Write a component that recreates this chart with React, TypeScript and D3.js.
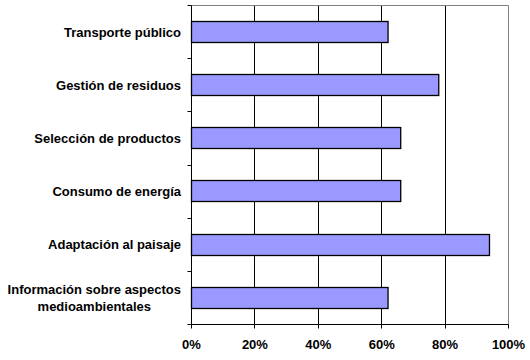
import { useEffect, useRef } from "react";
import * as d3 from "d3";

// categories top to bottom, "\n" marks a line break
const categories = [
  "Transporte público",
  "Gestión de residuos",
  "Selección de productos",
  "Consumo de energía",
  "Adaptación al paisaje",
  "Información sobre aspectos\nmedioambientales",
];
const values = [62, 78, 66, 66, 94, 62];
const xTicks = [0, 20, 40, 60, 80, 100];

const W = 530;
const H = 360;
const margin = { top: 5.5, right: 21.5, bottom: 35.5, left: 191.5 };
const FONT = "'Liberation Sans', Arial, sans-serif";

export default function App() {
  const ref = useRef<SVGSVGElement>(null);

  useEffect(() => {
    const svg = d3.select(ref.current);
    svg.selectAll("*").remove();

    const x = d3
      .scaleLinear()
      .domain([0, 100])
      .range([margin.left, W - margin.right]);
    const y = d3
      .scaleBand()
      .domain(categories)
      .range([margin.top, H - margin.bottom])
      .padding(0);
    const crisp = (v: number) => Math.round(v - 0.5) + 0.5;
    const y0 = margin.top;
    const y1 = H - margin.bottom;

    // gridlines
    svg
      .append("g")
      .selectAll("line")
      .data(xTicks.filter((t) => t > 0 && t < 100))
      .join("line")
      .attr("x1", (d) => crisp(x(d)))
      .attr("x2", (d) => crisp(x(d)))
      .attr("y1", y0)
      .attr("y2", y1)
      .attr("stroke", "#000")
      .attr("stroke-width", 1);

    // grey border top and right
    svg
      .append("path")
      .attr("d", `M${x(0)},${y0}H${crisp(x(100))}V${y1}`)
      .attr("fill", "none")
      .attr("stroke", "#808080");

    // bars
    const barH = y.bandwidth() * 0.4;
    svg
      .append("g")
      .selectAll("rect")
      .data(categories)
      .join("rect")
      .attr("x", x(0))
      .attr("y", (d) => crisp((y(d) || 0) + y.bandwidth() / 2 - barH / 2))
      .attr("width", (d, i) => x(values[i]) - x(0))
      .attr("height", Math.round(barH))
      .attr("fill", "#9999FF")
      .attr("stroke", "#000")
      .attr("stroke-width", 1.3);

    // axes lines
    svg
      .append("path")
      .attr("d", `M${x(0)},${y0}V${y1}H${crisp(x(100))}`)
      .attr("fill", "none")
      .attr("stroke", "#000");

    // left ticks at band boundaries
    const bounds = categories.map((c) => y(c) || 0).concat([y1]);
    svg
      .append("g")
      .selectAll("line")
      .data(bounds)
      .join("line")
      .attr("x1", x(0) - 4)
      .attr("x2", x(0))
      .attr("y1", (d) => crisp(d))
      .attr("y2", (d) => crisp(d))
      .attr("stroke", "#000");

    // bottom ticks + labels
    const bx = svg.append("g");
    bx.selectAll("line")
      .data(xTicks)
      .join("line")
      .attr("x1", (d) => crisp(x(d)))
      .attr("x2", (d) => crisp(x(d)))
      .attr("y1", y1)
      .attr("y2", y1 + 4)
      .attr("stroke", "#000");
    bx.selectAll("text")
      .data(xTicks)
      .join("text")
      .attr("x", (d) => x(d))
      .attr("y", y1 + 24)
      .attr("text-anchor", "middle")
      .attr("font-family", FONT)
      .attr("font-weight", "bold")
      .attr("font-size", 13)
      .text((d) => `${d}%`);

    // category labels
    const labelRight = x(0) - 10.5;
    categories.forEach((c) => {
      const lines = c.split("\n");
      const cy = (y(c) || 0) + y.bandwidth() / 2;
      const lh = 17;
      const t = svg
        .append("text")
        .attr("font-family", FONT)
        .attr("font-weight", "bold")
        .attr("font-size", 13)
        .attr("text-anchor", lines.length > 1 ? "middle" : "end");
      lines.forEach((ln, i) => {
        t.append("tspan")
          .attr("x", labelRight)
          .attr("y", cy + (i - (lines.length - 1) / 2) * lh)
          .attr("dy", "0.36em")
          .text(ln);
      });
      if (lines.length > 1) {
        const w = (t.node() as SVGTextElement).getBBox().width;
        t.selectAll("tspan").attr("x", labelRight - w / 2);
      }
    });
  }, []);

  return (
    <svg
      ref={ref}
      width={W}
      height={H}
      style={{ position: "absolute", left: 0, top: 0, background: "#fff" }}
    />
  );
}
